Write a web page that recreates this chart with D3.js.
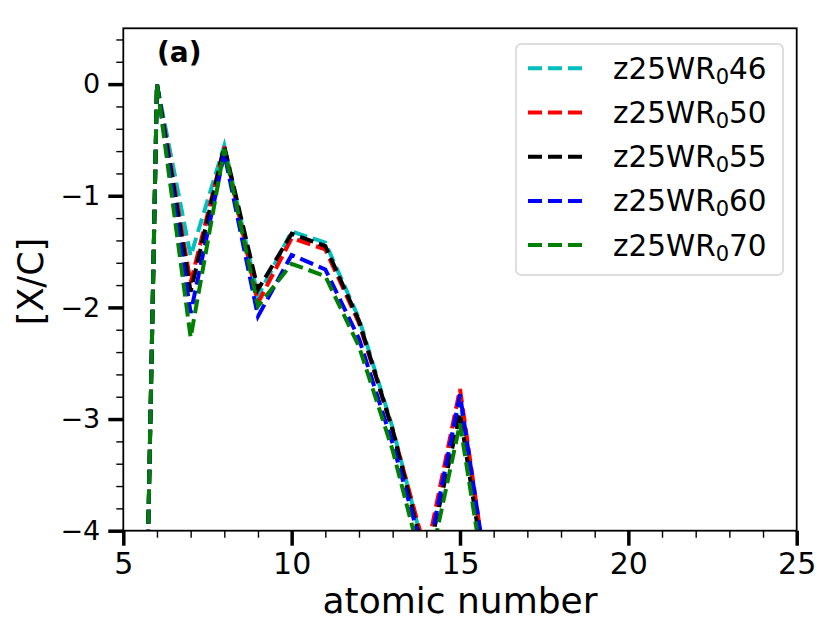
<!DOCTYPE html>
<html>
<head>
<meta charset="utf-8">
<script src="https://cdn.jsdelivr.net/npm/d3@7"></script>
<style>
  html, body { margin: 0; padding: 0; background: #fff; }
  svg { display: block; font-family: "DejaVu Sans", sans-serif; }
</style>
</head>
<body>
<svg id="chart" width="831" height="640"></svg>
<script>
// ---- data ----
const atomicNumbers = [5, 6, 7, 8, 9, 10, 11, 12, 13, 14, 15, 16];
const seriesNames = ["46", "50", "55", "60", "70"];
const seriesColors = ["#00bfbf", "#ff0000", "#000000", "#0000ff", "#008000"];
const z25WR46 = [-15.4, 0, -1.54, -0.55, -1.90, -1.32, -1.42, -2.10, -3.08, -4.25, -2.82, -4.85];
const z25WR50 = [-15.4, 0, -1.78, -0.56, -1.96, -1.38, -1.48, -2.14, -3.10, -4.21, -2.73, -4.85];
const z25WR55 = [-15.4, 0, -1.86, -0.56, -1.84, -1.34, -1.45, -2.12, -3.10, -4.30, -2.95, -4.90];
const z25WR60 = [-15.4, 0, -2.05, -0.62, -2.08, -1.53, -1.66, -2.28, -3.22, -4.30, -2.78, -4.81];
const z25WR70 = [-15.4, 0, -2.27, -0.58, -1.99, -1.61, -1.72, -2.35, -3.28, -4.45, -3.04, -4.96];
const seriesValues = [z25WR46, z25WR50, z25WR55, z25WR60, z25WR70];
const xTicks = [5, 10, 15, 20, 25];
const yTicks = [-4, -3, -2, -1, 0];

// ---- layout ----
const svg = d3.select("#chart");
const L = 123.3, R = 796.7, T = 28.3, B = 530.7;
const x = d3.scaleLinear().domain([5, 25]).range([L, R]);
const y = d3.scaleLinear().domain([-4, 0.5]).range([B, T]);

svg.append("defs").append("clipPath").attr("id", "clip")
  .append("rect").attr("x", L).attr("y", T).attr("width", R - L).attr("height", B - T);

// lines
const line = d3.line().x(d => x(d[0])).y(d => y(d[1]));
const gLines = svg.append("g").attr("clip-path", "url(#clip)");
seriesValues.forEach((vals, i) => {
  gLines.append("path")
    .datum(atomicNumbers.map((z, j) => [z, vals[j]]))
    .attr("d", line)
    .attr("fill", "none")
    .attr("stroke", seriesColors[i])
    .attr("stroke-width", 4)
    .attr("stroke-dasharray", "14,6")
    .attr("stroke-linejoin", "miter");
});

// frame
svg.append("rect").attr("x", L).attr("y", T).attr("width", R - L).attr("height", B - T)
  .attr("fill", "none").attr("stroke", "#000").attr("stroke-width", 1.8);

// x axis minor
const xMinor = d3.range(5, 26, 1).filter(v => v % 5 !== 0);
svg.append("g").attr("transform", `translate(0,${B})`)
  .call(d3.axisBottom(x).tickValues(xMinor).tickSize(7).tickFormat(""))
  .call(g => g.select(".domain").remove())
  .call(g => g.selectAll("line").attr("stroke-width", 1.4));
// x axis major
const gx = svg.append("g").attr("transform", `translate(0,${B})`)
  .call(d3.axisBottom(x).tickValues(xTicks).tickSize(15).tickPadding(7).tickFormat(d3.format("d")));
gx.select(".domain").remove();
gx.selectAll("line").attr("stroke-width", 3.5);
gx.selectAll("text").attr("font-size", "30px").attr("font-family", "DejaVu Sans").attr("fill", "#000");

// y axis minor
const yMinorVals = d3.range(-40, 6, 2).map(v => v / 10).filter(v => Math.abs(v - Math.round(v)) > 1e-6);
svg.append("g").attr("transform", `translate(${L},0)`)
  .call(d3.axisLeft(y).tickValues(yMinorVals).tickSize(7).tickFormat(""))
  .call(g => g.select(".domain").remove())
  .call(g => g.selectAll("line").attr("stroke-width", 1.4));
// y axis major
const gy = svg.append("g").attr("transform", `translate(${L},0)`)
  .call(d3.axisLeft(y).tickValues(yTicks).tickSize(15).tickPadding(8).tickFormat(d3.format("d")));
gy.select(".domain").remove();
gy.selectAll("line").attr("stroke-width", 3.5);
gy.selectAll("text").attr("font-size", "27px").attr("font-family", "DejaVu Sans").attr("fill", "#000");

// axis labels
svg.append("text").attr("x", (L + R) / 2).attr("y", 613)
  .attr("text-anchor", "middle").attr("font-size", "36px").text("atomic number");
svg.append("text").attr("transform", `translate(43,${(T + B) / 2 + 2}) rotate(-90)`)
  .attr("text-anchor", "middle").attr("font-size", "35px").text("[X/C]");

// panel label
svg.append("text").attr("x", 157).attr("y", 62).attr("font-size", "28px")
  .attr("font-weight", "bold").text("(a)");

// legend
const lg = svg.append("g");
lg.append("rect").attr("x", 516).attr("y", 44).attr("width", 267).attr("height", 231)
  .attr("rx", 5).attr("fill", "#fff").attr("fill-opacity", 0.85)
  .attr("stroke", "#d4d4d4").attr("stroke-width", 1.5);
seriesNames.forEach((name, i) => {
  const ly = 68.3 + i * 44.2;
  lg.append("line").attr("x1", 528).attr("x2", 588).attr("y1", ly).attr("y2", ly)
    .attr("stroke", seriesColors[i]).attr("stroke-width", 4).attr("stroke-dasharray", "14,6");
  const t = lg.append("text").attr("x", 613).attr("y", ly + 10.5).attr("font-size", "29.5px");
  t.append("tspan").text("z25WR");
  t.append("tspan").attr("font-size", "21px").attr("dy", 5).text("0");
  t.append("tspan").attr("dy", -5).text(name);
});
</script>
</body>
</html>
